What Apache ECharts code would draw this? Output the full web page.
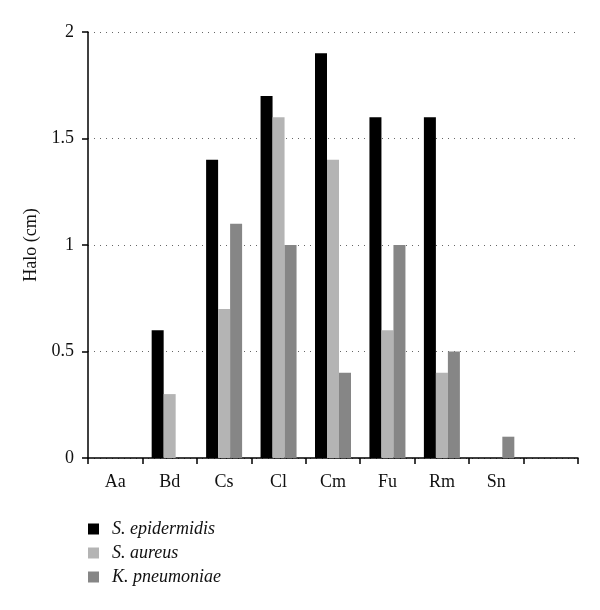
<!DOCTYPE html>
<html><head><meta charset="utf-8">
<script src="https://cdn.jsdelivr.net/npm/echarts@6/dist/echarts.min.js"></script>
<style>html,body{margin:0;padding:0;background:#fff}#c{width:600px;height:610px}</style>
</head><body><div id="c"></div>
<script>
const categories = ['Aa','Bd','Cs','Cl','Cm','Fu','Rm','Sn',''];
const sEpidermidis = [0,0.6,1.4,1.7,1.9,1.6,1.6,0,null];
const sAureus = [0,0.3,0.7,1.6,1.4,0.6,0.4,0,null];
const kPneumoniae = [0,0,1.1,1.0,0.4,1.0,0.5,0.1,null];
const seriesNames = ['S. epidermidis','S. aureus','K. pneumoniae'];
const colors = ['#000000','#b4b4b4','#868686'];
const font = 'Liberation Serif';
const chart = echarts.init(document.getElementById('c'));
const mk = (name, data, i) => ({
  name, type:'bar', data, barWidth:12, barGap:'0%',
  itemStyle:{color:colors[i]}, animation:false
});
chart.setOption({
  animation:false,
  grid:{left:88,right:22,top:32,bottom:152},
  legend:{
    orient:'vertical', left:83, top:515, itemWidth:11, itemHeight:11, itemGap:6,
    icon:'rect',
    textStyle:{fontFamily:font, fontStyle:'italic', fontSize:18, color:'#111', padding:[0,0,0,8]},
    data:seriesNames
  },
  xAxis:{
    type:'category', data:categories,
    axisLine:{lineStyle:{color:'#000',width:1.5}},
    axisTick:{show:true, alignWithLabel:false, length:6, lineStyle:{color:'#000',width:1.5}},
    axisLabel:{fontFamily:font, fontSize:18, color:'#111', margin:15}
  },
  yAxis:{
    type:'value', min:0, max:2, interval:0.5,
    name:'Halo (cm)', nameLocation:'middle', nameGap:46, nameRotate:90,
    nameTextStyle:{fontFamily:font, fontSize:18, color:'#111'},
    axisLine:{show:true, lineStyle:{color:'#000',width:1.5}},
    axisTick:{show:true, length:6, lineStyle:{color:'#000',width:1.5}},
    axisLabel:{fontFamily:font, fontSize:18, color:'#111', margin:14},
    splitLine:{show:true, lineStyle:{color:'#666', type:[1,5], width:1}}
  },
  series:[mk(seriesNames[0], sEpidermidis,0), mk(seriesNames[1], sAureus,1), mk(seriesNames[2], kPneumoniae,2)]
});
</script></body></html>
